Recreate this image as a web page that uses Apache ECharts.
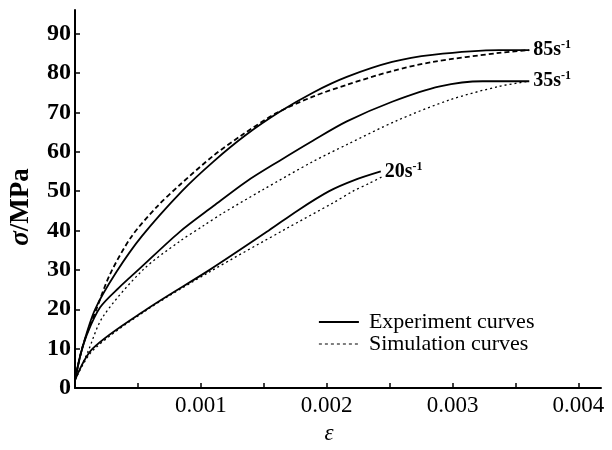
<!DOCTYPE html>
<html>
<head>
<meta charset="utf-8">
<script src="https://cdn.jsdelivr.net/npm/echarts@6/dist/echarts.min.js"></script>
<style>
  html, body { margin: 0; padding: 0; background: #fff; }
  #chart { width: 612px; height: 450px; }
</style>
</head>
<body>
<div id="chart"></div>
<script>
// strain / stress pairs
var exp85 = [[0,2],[0.00006,10.4],[0.00016,20],[0.00033,29.5],[0.00053,38.5],[0.00085,50],[0.0011,57.5],[0.00136,64.3],
  [0.00163,70.2],[0.00189,75],[0.00216,79],[0.00252,82.8],[0.00284,84.6],[0.00337,85.8],[0.00361,85.8]];
var sim85 = [[0,2],[0.00006,10.5],[0.00017,20],[0.00028,29],[0.00045,38.5],[0.00065,46],[0.00083,51.5],[0.0011,59],
  [0.00133,64.3],[0.0016,69.8],[0.00189,74],[0.00216,77],[0.00252,80.5],[0.00284,82.8],[0.00337,85.1],[0.00361,85.8]];
var exp35 = [[0,2],[0.00004,8],[0.0001,14],[0.0002,20.5],[0.00035,25.5],[0.00052,30.5],[0.00083,39.6],[0.0011,46.2],
  [0.00136,52.4],[0.00163,57.8],[0.00189,62.8],[0.00216,67.7],[0.00252,72.7],[0.0029,76.6],[0.00324,77.9],[0.00361,77.9]];
var sim35 = [[0,2],[0.0001,9],[0.00022,18],[0.00054,30],[0.00083,37.2],[0.00102,41.2],[0.00117,44.3],[0.00149,50.3],
  [0.00189,57.5],[0.00216,61.8],[0.00255,67.8],[0.00298,73.2],[0.00337,76.6],[0.00361,77.9]];
var exp20 = [[0,2],[0.00014,10],[0.00057,20],[0.00107,30],[0.00154,40],[0.00178,45.3],[0.00202,50],[0.00222,52.8],[0.00243,55]];
var sim20 = [[0,2],[0.00014,9.5],[0.00057,19.8],[0.00107,29.5],[0.00168,40.5],[0.00205,47],[0.00221,50],[0.00234,52],[0.00245,53.8]];

var rateLabels = ['85', '35', '20'];
var xTicks = [0, 0.0005, 0.001, 0.0015, 0.002, 0.0025, 0.003, 0.0035, 0.004];
var xLabels = [0.001, 0.002, 0.003, 0.004];
var yTicks = [0, 10, 20, 30, 40, 50, 60, 70, 80, 90];

var serif = '"Liberation Serif", "DejaVu Serif", serif';

function expSeries(data, rate){
	return {
		name: 'Experiment curves',
		type: 'line',
		data: data,
		symbol: 'none',
		smooth: 0.3,
		itemStyle: { color: '#000' },
		lineStyle: { color: '#000', width: 1.8, type: 'solid' },
		endLabel: {
			show: true,
			distance: 4,
			formatter: '{a|' + rate + 's}{b|-1}',
			rich: {
				a: { fontFamily: serif, fontSize: 20, color: '#000', fontWeight: 'bold' },
				b: { fontFamily: serif, fontSize: 12, color: '#000', fontWeight: 'bold', verticalAlign: 'top', padding: [0,0,10,0] }
			}
		}
	};
}
function simSeries(data, dash, w){
	return {
		name: 'Simulation curves',
		type: 'line',
		data: data,
		symbol: 'none',
		smooth: 0.3,
		itemStyle: { color: '#000' },
		lineStyle: { color: '#000', width: w, type: dash }
	};
}

var chart = echarts.init(document.getElementById('chart'));
var option = {
	animation: false,
	backgroundColor: '#fff',
	grid: { left: 75, right: 11, top: 10, bottom: 53 },
	legend: {
		orient: 'vertical',
		left: 318,
		top: 311,
		padding: 0,
		itemWidth: 40,
		itemHeight: 14,
		itemGap: 0,
		textStyle: { fontFamily: serif, fontSize: 22, lineHeight: 21, color: '#000', padding: [0, 0, 0, 5] },
		data: [
			{ name: 'Experiment curves', itemStyle: { color: 'rgba(0,0,0,0)', borderWidth: 0 },
				lineStyle: { color: '#000', width: 1.8, type: 'solid' } },
			{ name: 'Simulation curves', itemStyle: { color: 'rgba(0,0,0,0)', borderWidth: 0 },
				lineStyle: { color: '#000', width: 1.2, type: [3, 3] } }
		]
	},
	xAxis: {
		type: 'value',
		min: 0,
		max: 0.00418,
		name: 'ε',
		nameLocation: 'middle',
		nameGap: 34,
		nameTextStyle: { fontFamily: serif, fontSize: 23, fontStyle: 'italic', color: '#000', padding: [0, 18, 0, 0] },
		axisLine: { lineStyle: { color: '#000', width: 2 } },
		axisTick: { inside: true, length: 5, customValues: xTicks, lineStyle: { color: '#000', width: 1.5 } },
		axisLabel: { customValues: xLabels, fontFamily: serif, fontSize: 23, color: '#000', margin: 6,
			formatter: function(v){ return v.toFixed(3); } },
		splitLine: { show: false }
	},
	yAxis: {
		type: 'value',
		min: 0,
		max: 96,
		name: '{i|σ}/MPa',
		nameLocation: 'middle',
		nameGap: 40,
		nameRotate: 90,
		nameTextStyle: { fontFamily: serif, fontSize: 27, fontWeight: 'bold', color: '#000', padding: [0, 16, 0, 0],
			rich: { i: { fontFamily: serif, fontSize: 27, fontWeight: 'bold', fontStyle: 'italic', color: '#000' } } },
		axisLine: { lineStyle: { color: '#000', width: 2 } },
		axisTick: { inside: true, length: 5, customValues: yTicks, lineStyle: { color: '#000', width: 1.5 } },
		axisLabel: { customValues: yTicks, fontFamily: serif, fontSize: 24, fontWeight: 'bold', color: '#000', margin: 4 },
		splitLine: { show: false }
	},
	series: [
		expSeries(exp85, rateLabels[0]),
		simSeries(sim85, [5, 3], 1.8),
		expSeries(exp35, rateLabels[1]),
		simSeries(sim35, [2, 3], 1.3),
		expSeries(exp20, rateLabels[2]),
		simSeries(sim20, [2, 3], 1.3)
	]
};
chart.setOption(option);
</script>
</body>
</html>
